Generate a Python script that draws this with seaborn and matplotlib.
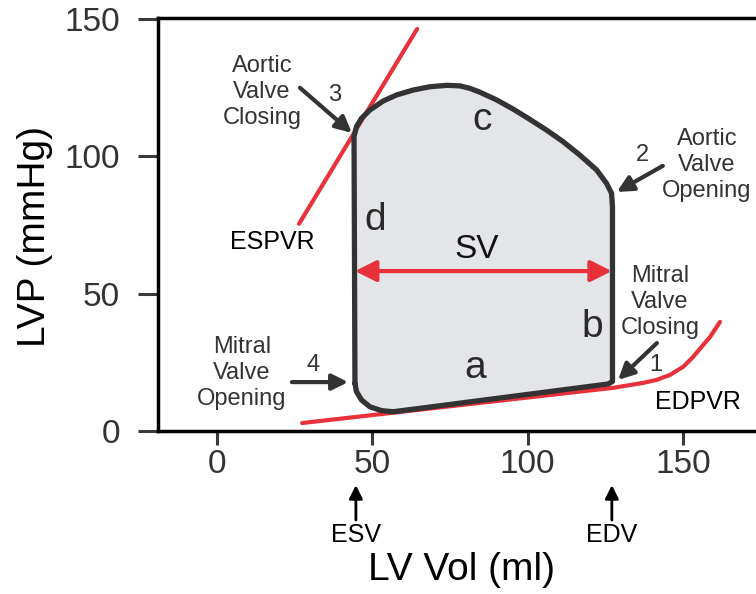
import numpy as np
import pandas as pd
import matplotlib
matplotlib.use("Agg")
import matplotlib.pyplot as plt
import seaborn as sns

# ---- data ----
loop_vol = [44.4, 44.1, 44.9, 46.5, 49.2, 53.5, 57.8, 63.2, 68.6, 74.0, 78.2, 81.4, 84.6, 90.0, 95.4, 100.7,
            106.1, 111.4, 116.8, 122.2, 125.4, 127.0, 127.3, 127.3, 125.9, 56.7, 53.0, 49.2, 46.5, 44.9, 44.4]
loop_p = [17.3, 107.1, 110.8, 113.8, 116.8, 120.1, 122.3, 124.1, 125.3, 125.8, 125.6, 124.7, 123.3, 120.5, 117.1,
          113.4, 109.5, 105.3, 100.4, 95.0, 90.1, 86.5, 81.6, 18.0, 17.1, 7.0, 7.4, 8.8, 11.3, 14.3, 17.3]
espvr_vol = [26.4, 64.4]
espvr_p = [75.4, 146.3]
edpvr_vol = [27.4, 75.0, 127.5, 137.1, 141.5, 145.8, 150.1, 153.2, 156.5, 158.7, 161.9]
edpvr_p = [2.9, 9.0, 15.7, 17.5, 18.6, 20.4, 23.4, 26.9, 31.3, 34.2, 39.7]
sv_vol = [44.4, 127.1]
sv_p = 58.2
esv, edv = 44.7, 127.1
xticks = [0, 50, 100, 150]
yticks = [0, 50, 100, 150]

# phase letters (x, baseline y)
phase_labels = ["a", "b", "c", "d"]
phase_x = [83.0, 120.7, 85.3, 50.9]
phase_y = [19.3, 34.2, 109.6, 73.2]

# valve events: number, text, arrow tip, arrow tail, number pos, text pos
ev_num = ["1", "2", "3", "4"]
ev_text = ["Mitral\nValve\nClosing", "Aortic\nValve\nOpening", "Aortic\nValve\nClosing", "Mitral\nValve\nOpening"]
ev_tip = [(129.1, 18.6), (128.7, 87.0), (43.4, 108.5), (42.2, 17.8)]
ev_tail = [(141.6, 32.0), (143.5, 96.5), (26.7, 124.9), (24.1, 17.8)]
ev_numpos = [(141.3, 24.0), (137.1, 100.5), (38.0, 122.3), (30.9, 24.0)]
ev_textpos = [(142.6, 47.0), (157.7, 96.8), (14.5, 123.4), (8.0, 21.1)]

RED = "#e8313b"
DARK = "#333333"

sns.set_theme(style="white")
plt.rcParams["font.family"] = ["Liberation Sans", "DejaVu Sans"]

fig = plt.figure(figsize=(7.56, 5.94), dpi=100)
ax = fig.add_axes([158 / 756, 1 - 431 / 594, 598 / 756, 413 / 594])

# loop fill + outline
ax.fill(loop_vol, loop_p, color="#e3e5e8", zorder=1)
loop_df = pd.DataFrame({"v": loop_vol, "p": loop_p})
sns.lineplot(data=loop_df, x="v", y="p", sort=False, estimator=None, color=DARK, lw=3.8, ax=ax, zorder=3)
for l in ax.lines:
    l.set_solid_joinstyle("round")
    l.set_solid_capstyle("round")

# ESPVR / EDPVR
sns.lineplot(x=espvr_vol, y=espvr_p, color=RED, lw=3.0, ax=ax, zorder=2)
sns.lineplot(x=edpvr_vol, y=edpvr_p, sort=False, estimator=None, color=RED, lw=3.0, ax=ax, zorder=2)

# SV arrow
ax.annotate("", xy=(sv_vol[0], sv_p), xytext=(sv_vol[1], sv_p),
            arrowprops=dict(arrowstyle="<|-|>", color=RED, lw=3, mutation_scale=32, shrinkA=0, shrinkB=0),
            zorder=4)
ax.text(83.6, 63.0, "SV", fontsize=24, ha="center", va="baseline", color="#111111", zorder=5)

for lab, x, y in zip(phase_labels, phase_x, phase_y):
    ax.text(x, y, lab, fontsize=28, ha="center", va="baseline", color="#2a2a2a", zorder=5)

for n, t, tip, tail, npos, tpos in zip(ev_num, ev_text, ev_tip, ev_tail, ev_numpos, ev_textpos):
    ax.annotate("", xy=tip, xytext=tail,
                arrowprops=dict(arrowstyle="-|>", color=DARK, lw=3, mutation_scale=24, shrinkA=0, shrinkB=0),
                zorder=6)
    ax.text(npos[0], npos[1], n, fontsize=17, ha="center", va="center", color=DARK)
    ax.text(tpos[0], tpos[1], t, fontsize=17, ha="center", va="center", color=DARK, linespacing=1.22)

ax.text(17.7, 68.8, "ESPVR", fontsize=18, ha="center", va="center", color="black")
ax.text(154.8, 10.6, "EDPVR", fontsize=18, ha="center", va="center", color="black")

# ESV / EDV markers below axis
for lab, xv in [("ESV", esv), ("EDV", edv)]:
    ax.annotate("", xy=(xv, -19.7), xytext=(xv, -32.4),
                arrowprops=dict(arrowstyle="-|>", color="black", lw=2, mutation_scale=20, shrinkA=0, shrinkB=0),
                annotation_clip=False)
    ax.text(xv, -37.9, lab, fontsize=18, ha="center", va="center", color="black", clip_on=False)

ax.set_xlim(-19, 173.5)
ax.set_ylim(0, 150.3)
ax.set_xticks(xticks)
ax.set_yticks(yticks)
ax.tick_params(axis="x", length=10, width=2.2, color="#3a3a3a", labelsize=24, labelcolor="#333333", pad=3,
               direction="out", bottom=True)
ax.tick_params(axis="y", length=14.4, width=2.2, color="#3a3a3a", labelsize=24, labelcolor="#333333", pad=13,
               direction="out", left=True)

for side in ["left", "bottom", "top"]:
    ax.spines[side].set_visible(True)
    ax.spines[side].set_color("black")
    ax.spines[side].set_linewidth(2.5)
ax.spines["right"].set_visible(False)

ax.set_xlabel("LV Vol (ml)", fontsize=28, color="black")
ax.set_ylabel("LVP (mmHg)", fontsize=28, color="black")
ax.xaxis.set_label_coords(0.508, -0.293)
ax.yaxis.set_label_coords(-0.176, 0.472)

fig.savefig("out.png", dpi=100)
